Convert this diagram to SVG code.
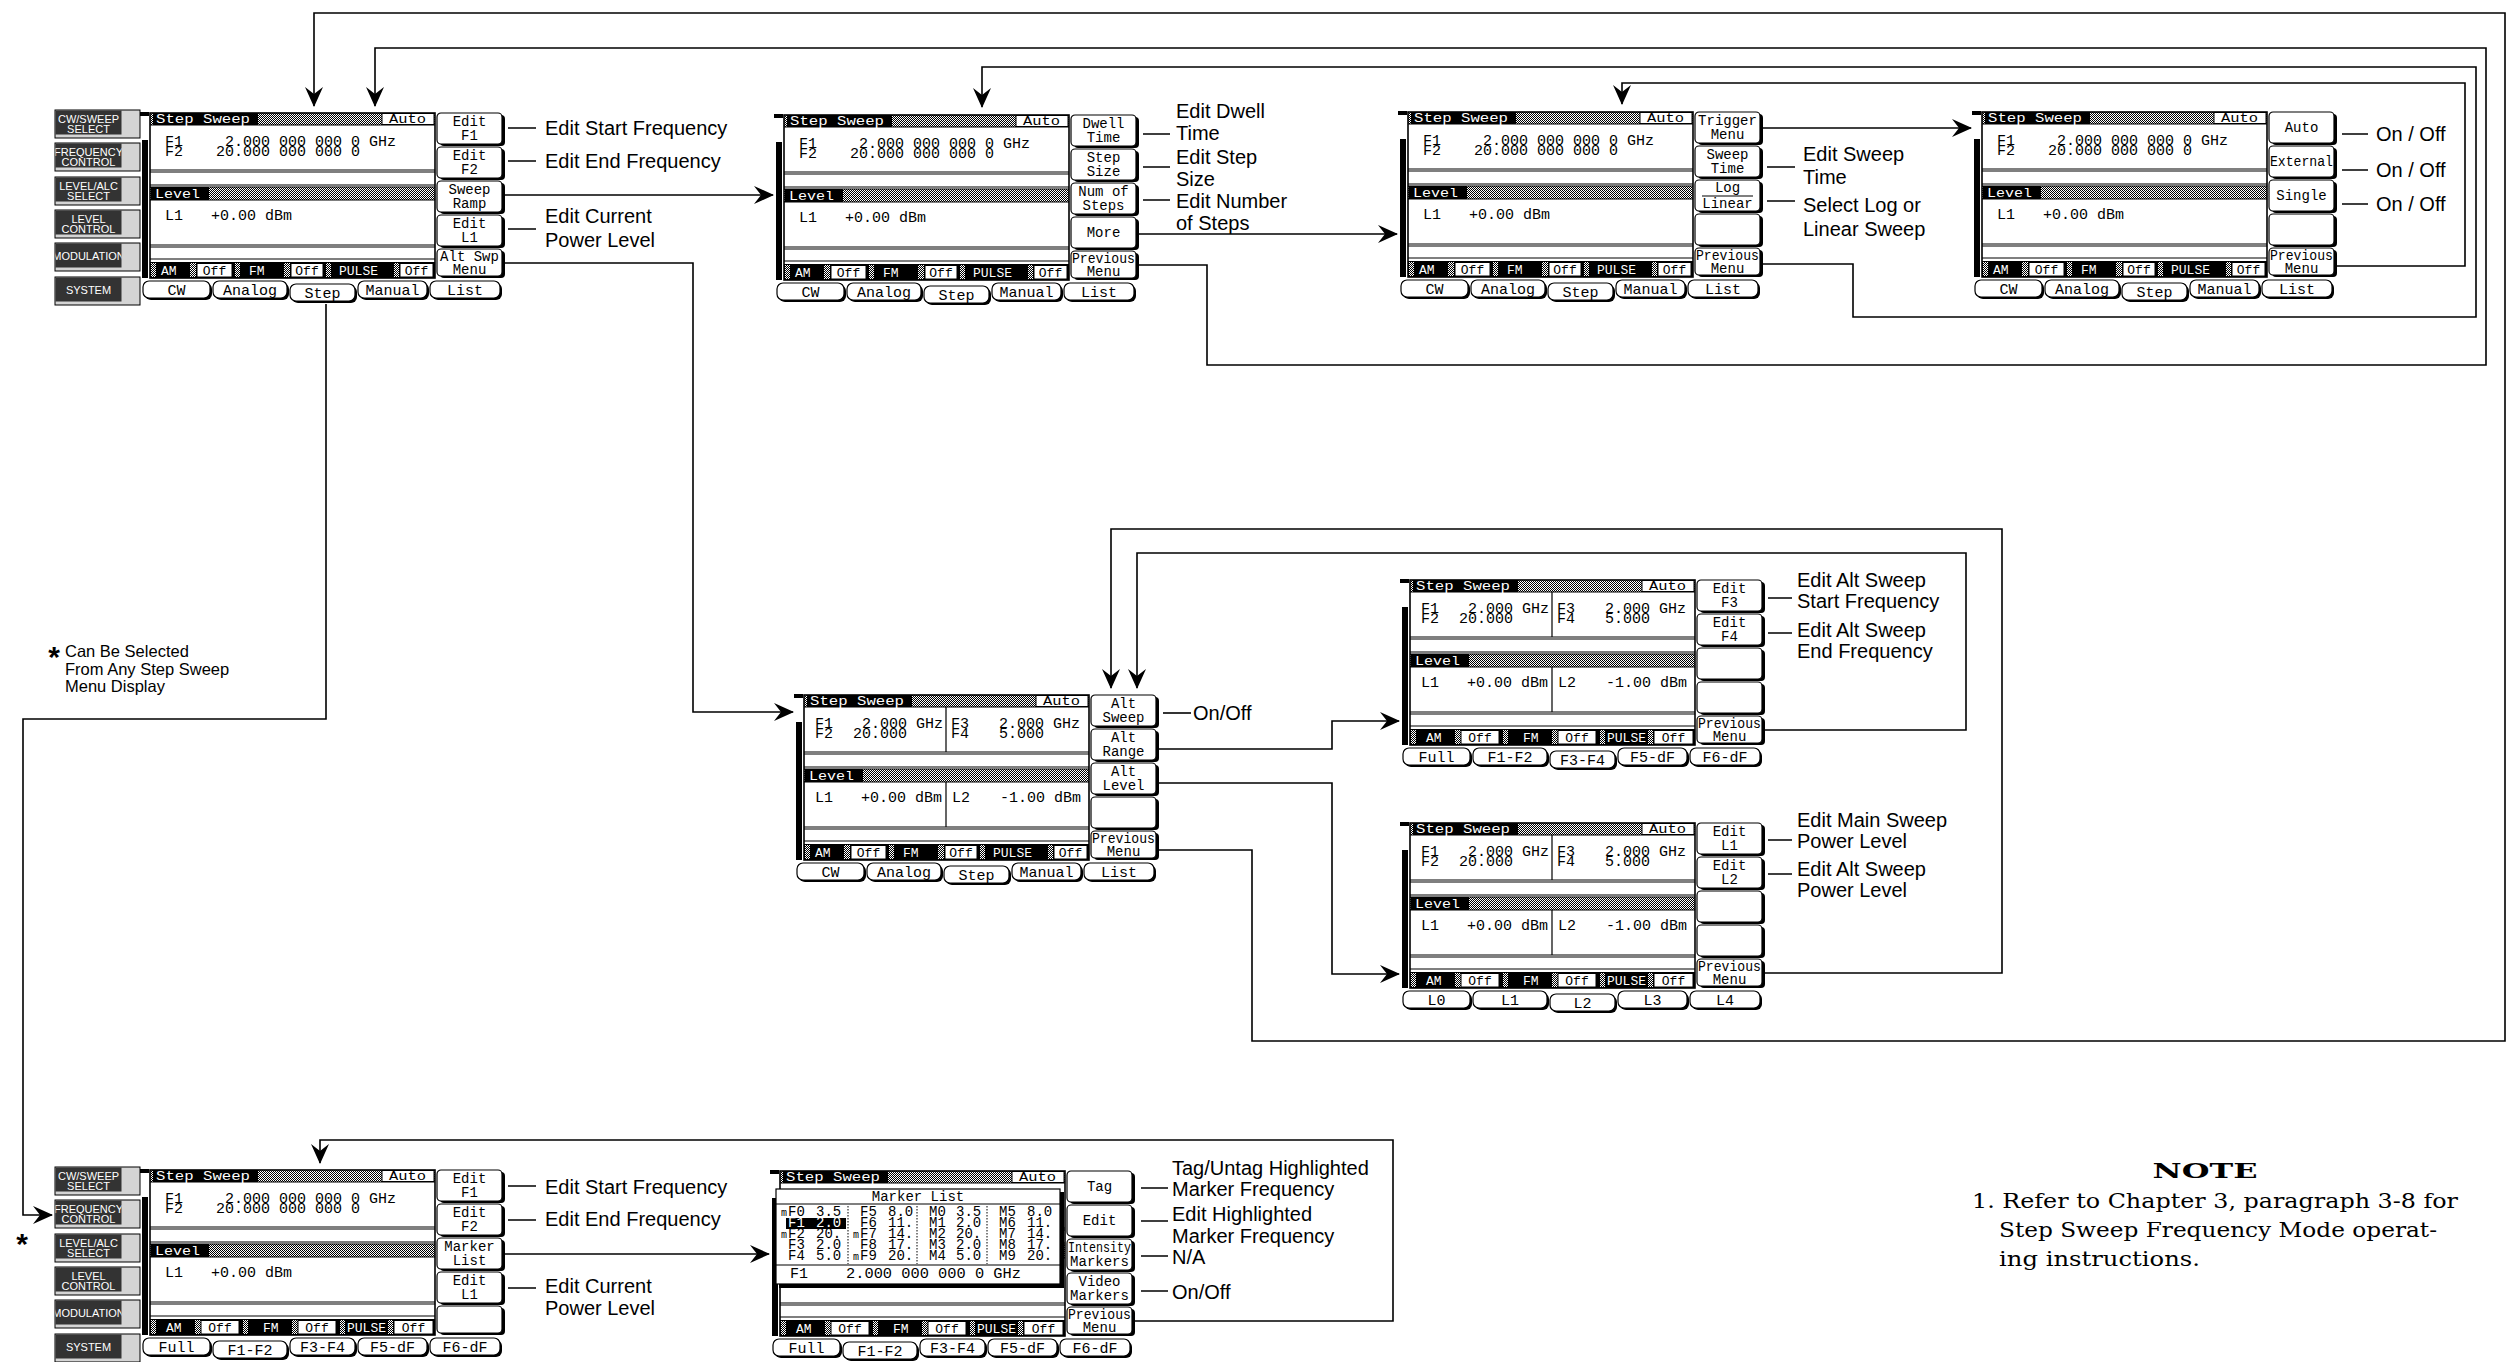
<svg xmlns="http://www.w3.org/2000/svg" width="2511" height="1362" viewBox="0 0 2511 1362">
<style>
.t{font-family:"Liberation Mono","DejaVu Sans Mono",monospace;fill:#000}
.f{font-size:15px}
.h{font-size:13px}
.s{font-size:13px}
.k{font-size:14px;text-anchor:middle}
.b{font-size:15px;text-anchor:middle}
.g{font-size:14px}
.m{font-size:10px}
.w{fill:#fff}
.lb{font-family:"Liberation Sans",Arial,sans-serif;font-size:20px;fill:#000}
.bt{font-family:"Liberation Sans",Arial,sans-serif;font-size:11px;fill:#fff;text-anchor:middle}
.ln{stroke:#000;stroke-width:1.6;fill:none}
.cn{stroke:#000;stroke-width:1.6;fill:none;marker-end:url(#ah)}
.bd{fill:none;stroke:#000;stroke-width:1.2}
.ob{fill:none;stroke:#000;stroke-width:1.6}
.key{fill:#fff;stroke:#000;stroke-width:1.2}
.sh{fill:#000}
.hb{fill:url(#ht)}
.off{fill:#fff;stroke:#000;stroke-width:1}
.nt{font-family:"DejaVu Serif","Liberation Serif",serif;font-size:21px;fill:#000}
</style>
<defs>
<pattern id="ht" width="2" height="2" patternUnits="userSpaceOnUse"><rect width="2" height="2" fill="#fff"/><rect width="1" height="1" fill="#000"/><rect x="1" y="1" width="1" height="1" fill="#000"/></pattern>
<marker id="ah" viewBox="0 0 20 18" refX="19" refY="9" markerWidth="20" markerHeight="18" markerUnits="userSpaceOnUse" orient="auto"><path d="M0,0 L20,9 L0,18 L7,9 Z" fill="#000"/></marker>
<clipPath id="lbc"><rect x="-94.5" y="-3" width="66" height="200"/></clipPath>

<g id="frame">
 <rect x="-10" y="-1" width="9" height="4" class="sh"/>
 <rect x="-8" y="27" width="6" height="138" class="sh"/>
 <rect x="0" y="0" width="285" height="165" fill="#fff"/>
 <rect x="0" y="0" width="285" height="12" class="hb"/>
 <rect x="3" y="0" width="105" height="12" class="sh"/>
 <rect x="232" y="0.5" width="52" height="11" class="off"/>
 <rect x="0" y="74" width="285" height="13" class="hb"/>
 <rect x="1" y="74" width="58" height="13" class="sh"/>
 <rect x="0" y="149" width="285" height="16" class="sh"/>
 <path class="bd" d="M0,12H285M0,57H285M0,59H285M0,72H285M0,74H285M0,87H285M0,132H285M0,134H285M0,146H285"/>
 <rect x="0" y="0" width="285" height="165" class="ob"/>
 <text class="t h w" x="6" y="10" textLength="94" lengthAdjust="spacingAndGlyphs">Step Sweep</text>
 <text class="t h" x="239" y="10" textLength="37" lengthAdjust="spacingAndGlyphs">Auto</text>
 <text class="t h w" x="5" y="85" textLength="45" lengthAdjust="spacingAndGlyphs">Level</text>
 <rect x="290" y="2" width="65" height="31" rx="4" class="sh"/><rect x="287" y="0" width="65" height="31" rx="4" class="key"/>
 <rect x="290" y="36" width="65" height="31" rx="4" class="sh"/><rect x="287" y="34" width="65" height="31" rx="4" class="key"/>
 <rect x="290" y="70" width="65" height="31" rx="4" class="sh"/><rect x="287" y="68" width="65" height="31" rx="4" class="key"/>
 <rect x="290" y="104" width="65" height="31" rx="4" class="sh"/><rect x="287" y="102" width="65" height="31" rx="4" class="key"/>
 <rect x="290" y="138" width="65" height="27" rx="4" class="sh"/><rect x="287" y="136" width="65" height="27" rx="4" class="key"/>
</g>

<g id="tsh3">
 <rect x="142" y="173" width="65" height="17" rx="6" class="sh"/><rect x="140" y="171" width="65" height="17" rx="6" class="key"/>
 <rect x="-5" y="170" width="67" height="17" rx="6" class="sh"/><rect x="-7" y="168" width="67" height="17" rx="6" class="key"/>
 <rect x="65" y="170" width="74" height="17" rx="6" class="sh"/><rect x="63" y="168" width="74" height="17" rx="6" class="key"/>
 <rect x="210" y="170" width="69" height="17" rx="6" class="sh"/><rect x="208" y="168" width="69" height="17" rx="6" class="key"/>
 <rect x="282" y="170" width="70" height="17" rx="6" class="sh"/><rect x="280" y="168" width="70" height="17" rx="6" class="key"/>
</g>
<g id="tsh2">
 <rect x="65" y="173" width="74" height="17" rx="6" class="sh"/><rect x="63" y="171" width="74" height="17" rx="6" class="key"/>
 <rect x="-5" y="170" width="67" height="17" rx="6" class="sh"/><rect x="-7" y="168" width="67" height="17" rx="6" class="key"/>
 <rect x="142" y="170" width="65" height="17" rx="6" class="sh"/><rect x="140" y="168" width="65" height="17" rx="6" class="key"/>
 <rect x="210" y="170" width="69" height="17" rx="6" class="sh"/><rect x="208" y="168" width="69" height="17" rx="6" class="key"/>
 <rect x="282" y="170" width="70" height="17" rx="6" class="sh"/><rect x="280" y="168" width="70" height="17" rx="6" class="key"/>
</g>
<g id="tabCW">
 <use href="#tsh3"/>
 <text class="t b" x="26.5" y="182">CW</text><text class="t b" x="100" y="182">Analog</text><text class="t b" x="172.5" y="185">Step</text><text class="t b" x="242.5" y="182">Manual</text><text class="t b" x="315" y="182">List</text>
</g>
<g id="tabF3">
 <use href="#tsh3"/>
 <text class="t b" x="26.5" y="182">Full</text><text class="t b" x="100" y="182">F1-F2</text><text class="t b" x="172.5" y="185">F3-F4</text><text class="t b" x="242.5" y="182">F5-dF</text><text class="t b" x="315" y="182">F6-dF</text>
</g>
<g id="tabF2">
 <use href="#tsh2"/>
 <text class="t b" x="26.5" y="182">Full</text><text class="t b" x="100" y="185">F1-F2</text><text class="t b" x="172.5" y="182">F3-F4</text><text class="t b" x="242.5" y="182">F5-dF</text><text class="t b" x="315" y="182">F6-dF</text>
</g>
<g id="tabL">
 <use href="#tsh3"/>
 <text class="t b" x="26.5" y="182">L0</text><text class="t b" x="100" y="182">L1</text><text class="t b" x="172.5" y="185">L2</text><text class="t b" x="242.5" y="182">L3</text><text class="t b" x="315" y="182">L4</text>
</g>

<g id="stA">
 <rect x="1" y="150" width="5" height="14" class="hb"/>
 <rect x="40" y="150" width="6" height="14" class="hb"/>
 <rect x="85" y="150" width="5" height="14" class="hb"/>
 <rect x="134" y="150" width="6" height="14" class="hb"/>
 <rect x="176" y="150" width="5" height="14" class="hb"/>
 <rect x="244" y="150" width="5" height="14" class="hb"/>
 <rect x="47" y="150.5" width="35" height="13.5" class="off"/>
 <rect x="141" y="150.5" width="32" height="13.5" class="off"/>
 <rect x="250" y="150.5" width="33" height="13.5" class="off"/>
 <text class="t s w" x="11" y="162">AM</text>
 <text class="t s w" x="99" y="162">FM</text>
 <text class="t s w" x="189" y="162">PULSE</text>
 <text class="t s" x="64.5" y="162" text-anchor="middle">Off</text>
 <text class="t s" x="157" y="162" text-anchor="middle">Off</text>
 <text class="t s" x="266.5" y="162" text-anchor="middle">Off</text>
</g>
<g id="stB">
 <rect x="1" y="150" width="5" height="14" class="hb"/>
 <rect x="45" y="150" width="6" height="14" class="hb"/>
 <rect x="93" y="150" width="5" height="14" class="hb"/>
 <rect x="142" y="150" width="6" height="14" class="hb"/>
 <rect x="190" y="150" width="5" height="14" class="hb"/>
 <rect x="238" y="150" width="5" height="14" class="hb"/>
 <rect x="51" y="150.5" width="38" height="13.5" class="off"/>
 <rect x="148" y="150.5" width="38" height="13.5" class="off"/>
 <rect x="244" y="150.5" width="39" height="13.5" class="off"/>
 <text class="t s w" x="16" y="162">AM</text>
 <text class="t s w" x="113" y="162">FM</text>
 <text class="t s w" x="197" y="162">PULSE</text>
 <text class="t s" x="70" y="162" text-anchor="middle">Off</text>
 <text class="t s" x="167" y="162" text-anchor="middle">Off</text>
 <text class="t s" x="263.5" y="162" text-anchor="middle">Off</text>
</g>

<g id="fs">
 <text class="t f" x="15" y="33">F1</text>
 <text class="t f" x="75" y="33">2.000 000 000 0 GHz</text>
 <text class="t f" x="15" y="43">F2</text>
 <text class="t f" x="66" y="43">20.000 000 000 0</text>
 <text class="t f" x="15" y="107">L1</text>
 <text class="t f" x="61" y="107">+0.00 dBm</text>
</g>
<g id="fd">
 <path class="bd" d="M142,12V57M142,87V132"/>
 <text class="t f" x="11" y="33">F1</text>
 <text class="t f" x="58" y="33">2.000 GHz</text>
 <text class="t f" x="11" y="43">F2</text>
 <text class="t f" x="49" y="43">20.000</text>
 <text class="t f" x="147" y="33">F3</text>
 <text class="t f" x="195" y="33">2.000 GHz</text>
 <text class="t f" x="147" y="43">F4</text>
 <text class="t f" x="195" y="43">5.000</text>
 <text class="t f" x="11" y="107">L1</text>
 <text class="t f" x="57" y="107">+0.00 dBm</text>
 <text class="t f" x="148" y="107">L2</text>
 <text class="t f" x="196" y="107">-1.00 dBm</text>
</g>

<g id="lb">
 <rect x="-95" y="-3" width="85" height="28" fill="#d4d4d4" stroke="#000"/><rect x="-94.5" y="-2.5" width="66" height="24" fill="#333"/>
 <rect x="-95" y="30" width="85" height="28" fill="#d4d4d4" stroke="#000"/><rect x="-94.5" y="30.5" width="66" height="24" fill="#333"/>
 <rect x="-95" y="64" width="85" height="28" fill="#d4d4d4" stroke="#000"/><rect x="-94.5" y="64.5" width="66" height="24" fill="#333"/>
 <rect x="-95" y="97" width="85" height="28" fill="#d4d4d4" stroke="#000"/><rect x="-94.5" y="97.5" width="66" height="24" fill="#333"/>
 <rect x="-95" y="130" width="85" height="28" fill="#d4d4d4" stroke="#000"/><rect x="-94.5" y="130.5" width="66" height="24" fill="#333"/>
 <rect x="-95" y="164" width="85" height="28" fill="#d4d4d4" stroke="#000"/><rect x="-94.5" y="164.5" width="66" height="24" fill="#333"/>
 <g clip-path="url(#lbc)">
  <text class="bt" x="-61.5" y="9.5">CW/SWEEP</text><text class="bt" x="-61.5" y="20">SELECT</text>
  <text class="bt" x="-61.5" y="42.5">FREQUENCY</text><text class="bt" x="-61.5" y="53">CONTROL</text>
  <text class="bt" x="-61.5" y="76.5">LEVEL/ALC</text><text class="bt" x="-61.5" y="87">SELECT</text>
  <text class="bt" x="-61.5" y="109.5">LEVEL</text><text class="bt" x="-61.5" y="120">CONTROL</text>
  <text class="bt" x="-61.5" y="146.5">MODULATION</text>
  <text class="bt" x="-61.5" y="180.5">SYSTEM</text>
 </g>
</g>

<g id="mkl">
 <rect x="-1" y="21" width="285" height="96" class="sh"/>
 <rect x="-4" y="18" width="284" height="95" fill="#fff" stroke="#000" stroke-width="1.2"/>
 <text class="t g" x="138" y="30" text-anchor="middle">Marker List</text>
 <path class="bd" d="M-4,33H280M-4,94H280"/>
 <path d="M68,35V93M137,35V93M207,35V93" stroke="#000" stroke-width="1" stroke-dasharray="1.5,1.5" fill="none"/>
 <rect x="6" y="47" width="60" height="11" class="sh"/>
 <text class="t g" y="45"><tspan class="m" x="1">m</tspan><tspan x="8">F0</tspan><tspan x="36">3.5</tspan><tspan x="80">F5</tspan><tspan x="108">8.0</tspan><tspan x="149">M0</tspan><tspan x="176">3.5</tspan><tspan x="219">M5</tspan><tspan x="247">8.0</tspan></text>
 <text class="t g w" y="56"><tspan x="8">F1</tspan><tspan x="36">2.0</tspan></text>
 <text class="t g" y="56"><tspan x="80">F6</tspan><tspan x="108">11.</tspan><tspan x="149">M1</tspan><tspan x="176">2.0</tspan><tspan x="219">M6</tspan><tspan x="247">11.</tspan></text>
 <text class="t g" y="67"><tspan class="m" x="1">m</tspan><tspan x="8">F2</tspan><tspan x="36">20.</tspan><tspan class="m" x="73">m</tspan><tspan x="80">F7</tspan><tspan x="108">14.</tspan><tspan x="149">M2</tspan><tspan x="176">20.</tspan><tspan x="219">M7</tspan><tspan x="247">14.</tspan></text>
 <text class="t g" y="78"><tspan x="8">F3</tspan><tspan x="36">2.0</tspan><tspan x="80">F8</tspan><tspan x="108">17.</tspan><tspan x="149">M3</tspan><tspan x="176">2.0</tspan><tspan x="219">M8</tspan><tspan x="247">17.</tspan></text>
 <text class="t g" y="89"><tspan x="8">F4</tspan><tspan x="36">5.0</tspan><tspan class="m" x="73">m</tspan><tspan x="80">F9</tspan><tspan x="108">20.</tspan><tspan x="149">M4</tspan><tspan x="176">5.0</tspan><tspan x="219">M9</tspan><tspan x="247">20.</tspan></text>
 <text class="t f" x="10" y="107">F1</text>
 <text class="t f" x="66" y="107" textLength="175" lengthAdjust="spacingAndGlyphs">2.000 000 000 0 GHz</text>
</g>
</defs>

<rect width="2511" height="1362" fill="#fff"/>

<g id="p1" transform="translate(150,113)">
 <use href="#lb"/><use href="#frame"/><use href="#fs"/><use href="#stA"/><use href="#tabCW"/>
 <text class="t k" x="319.5" y="13">Edit</text><text class="t k" x="319.5" y="27">F1</text>
 <text class="t k" x="319.5" y="47">Edit</text><text class="t k" x="319.5" y="61">F2</text>
 <text class="t k" x="319.5" y="81">Sweep</text><text class="t k" x="319.5" y="95">Ramp</text>
 <text class="t k" x="319.5" y="115">Edit</text><text class="t k" x="319.5" y="129">L1</text>
 <text class="t k" x="319.5" y="148">Alt Swp</text><text class="t k" x="319.5" y="161">Menu</text>
</g>

<g id="p2" transform="translate(784,115)">
 <use href="#frame"/><use href="#fs"/><use href="#stA"/><use href="#tabCW"/>
 <text class="t k" x="319.5" y="13">Dwell</text><text class="t k" x="319.5" y="27">Time</text>
 <text class="t k" x="319.5" y="47">Step</text><text class="t k" x="319.5" y="61">Size</text>
 <text class="t k" x="319.5" y="81">Num of</text><text class="t k" x="319.5" y="95">Steps</text>
 <text class="t k" x="319.5" y="122">More</text>
 <text class="t k" x="319.5" y="148" textLength="63" lengthAdjust="spacingAndGlyphs">Previous</text><text class="t k" x="319.5" y="161">Menu</text>
</g>

<g id="p3" transform="translate(1408,112)">
 <use href="#frame"/><use href="#fs"/><use href="#stA"/><use href="#tabCW"/>
 <text class="t k" x="319.5" y="13">Trigger</text><text class="t k" x="319.5" y="27">Menu</text>
 <text class="t k" x="319.5" y="47">Sweep</text><text class="t k" x="319.5" y="61">Time</text>
 <text class="t k" x="319.5" y="80">Log</text><path class="bd" d="M294,84H345"/><text class="t k" x="319.5" y="96">Linear</text>
 <text class="t k" x="319.5" y="148" textLength="63" lengthAdjust="spacingAndGlyphs">Previous</text><text class="t k" x="319.5" y="161">Menu</text>
</g>

<g id="p4" transform="translate(1982,112)">
 <use href="#frame"/><use href="#fs"/><use href="#stA"/><use href="#tabCW"/>
 <text class="t k" x="319.5" y="20">Auto</text>
 <text class="t k" x="319.5" y="54" textLength="63" lengthAdjust="spacingAndGlyphs">External</text>
 <text class="t k" x="319.5" y="88">Single</text>
 <text class="t k" x="319.5" y="148" textLength="63" lengthAdjust="spacingAndGlyphs">Previous</text><text class="t k" x="319.5" y="161">Menu</text>
</g>

<g id="p5" transform="translate(804,695)">
 <use href="#frame"/><use href="#fd"/><use href="#stA"/><use href="#tabCW"/>
 <text class="t k" x="319.5" y="13">Alt</text><text class="t k" x="319.5" y="27">Sweep</text>
 <text class="t k" x="319.5" y="47">Alt</text><text class="t k" x="319.5" y="61">Range</text>
 <text class="t k" x="319.5" y="81">Alt</text><text class="t k" x="319.5" y="95">Level</text>
 <text class="t k" x="319.5" y="148" textLength="63" lengthAdjust="spacingAndGlyphs">Previous</text><text class="t k" x="319.5" y="161">Menu</text>
</g>

<g id="p6" transform="translate(1410,580)">
 <use href="#frame"/><use href="#fd"/><use href="#stB"/><use href="#tabF3"/>
 <text class="t k" x="319.5" y="13">Edit</text><text class="t k" x="319.5" y="27">F3</text>
 <text class="t k" x="319.5" y="47">Edit</text><text class="t k" x="319.5" y="61">F4</text>
 <text class="t k" x="319.5" y="148" textLength="63" lengthAdjust="spacingAndGlyphs">Previous</text><text class="t k" x="319.5" y="161">Menu</text>
</g>

<g id="p8" transform="translate(1410,823)">
 <use href="#frame"/><use href="#fd"/><use href="#stB"/><use href="#tabL"/>
 <text class="t k" x="319.5" y="13">Edit</text><text class="t k" x="319.5" y="27">L1</text>
 <text class="t k" x="319.5" y="47">Edit</text><text class="t k" x="319.5" y="61">L2</text>
 <text class="t k" x="319.5" y="148" textLength="63" lengthAdjust="spacingAndGlyphs">Previous</text><text class="t k" x="319.5" y="161">Menu</text>
</g>

<g id="p7" transform="translate(150,1170)">
 <use href="#lb"/><use href="#frame"/><use href="#fs"/><use href="#stB"/><use href="#tabF2"/>
 <text class="t k" x="319.5" y="13">Edit</text><text class="t k" x="319.5" y="27">F1</text>
 <text class="t k" x="319.5" y="47">Edit</text><text class="t k" x="319.5" y="61">F2</text>
 <text class="t k" x="319.5" y="81">Marker</text><text class="t k" x="319.5" y="95">List</text>
 <text class="t k" x="319.5" y="115">Edit</text><text class="t k" x="319.5" y="129">L1</text>
</g>

<g id="p9" transform="translate(780,1171)">
 <use href="#frame"/><use href="#mkl"/><use href="#stB"/><use href="#tabF2"/>
 <text class="t k" x="319.5" y="20">Tag</text>
 <text class="t k" x="319.5" y="54">Edit</text>
 <text class="t k" x="319.5" y="81" textLength="63" lengthAdjust="spacingAndGlyphs">Intensity</text><text class="t k" x="319.5" y="95">Markers</text>
 <text class="t k" x="319.5" y="115">Video</text><text class="t k" x="319.5" y="129">Markers</text>
 <text class="t k" x="319.5" y="148" textLength="63" lengthAdjust="spacingAndGlyphs">Previous</text><text class="t k" x="319.5" y="161">Menu</text>
</g>

<g id="connectors">
 <path class="cn" d="M505,195H773"/>
 <path class="cn" d="M505,263H693V712H793"/>
 <path class="cn" d="M326,304V719H23V1215H52"/>
 <path class="cn" d="M1139,234H1397"/>
 <path class="cn" d="M1139,265H1207V365H2486V48H375V106"/>
 <path class="cn" d="M1763,128H1971"/>
 <path class="cn" d="M1763,264H1853V317H2476V67H982V107"/>
 <path class="cn" d="M2337,266H2465V83H1622V104"/>
 <path class="cn" d="M1159,749H1332V721H1399"/>
 <path class="cn" d="M1159,783H1332V974H1399"/>
 <path class="cn" d="M1159,850H1252V1041H2505V13H314V106"/>
 <path class="cn" d="M1765,730H1966V553H1137V688"/>
 <path class="cn" d="M1765,973H2002V529H1111V688"/>
 <path class="cn" d="M505,1254H769"/>
 <path class="cn" d="M1135,1321H1393V1140H320V1163"/>
 <path class="ln" d="M508,128H536M508,161H536M508,229H536"/>
 <path class="ln" d="M1143,134H1170M1143,167H1170M1143,200H1170"/>
 <path class="ln" d="M1767,167H1795M1767,201H1795"/>
 <path class="ln" d="M2342,134H2368M2342,170H2368M2342,204H2368"/>
 <path class="ln" d="M1163,713H1191"/>
 <path class="ln" d="M1768,598H1792M1768,633H1792"/>
 <path class="ln" d="M1768,840H1792M1768,874H1792"/>
 <path class="ln" d="M508,1186H536M508,1220H536M508,1288H536"/>
 <path class="ln" d="M1141,1188H1168M1141,1221H1168M1141,1256H1168M1141,1291H1168"/>
</g>

<g id="labels" class="lb">
 <text x="545" y="135">Edit Start Frequency</text>
 <text x="545" y="168">Edit End Frequency</text>
 <text x="545" y="223">Edit Current</text>
 <text x="545" y="247">Power Level</text>
 <text x="1176" y="118">Edit Dwell</text><text x="1176" y="140">Time</text>
 <text x="1176" y="164">Edit Step</text><text x="1176" y="186">Size</text>
 <text x="1176" y="208">Edit Number</text><text x="1176" y="230">of Steps</text>
 <text x="1803" y="161">Edit Sweep</text><text x="1803" y="184">Time</text>
 <text x="1803" y="212">Select Log or</text><text x="1803" y="236">Linear Sweep</text>
 <text x="2376" y="141">On / Off</text>
 <text x="2376" y="177">On / Off</text>
 <text x="2376" y="211">On / Off</text>
 <text x="1193" y="720">On/Off</text>
 <text x="1797" y="587">Edit Alt Sweep</text><text x="1797" y="608">Start Frequency</text>
 <text x="1797" y="637">Edit Alt Sweep</text><text x="1797" y="658">End Frequency</text>
 <text x="1797" y="827">Edit Main Sweep</text><text x="1797" y="848">Power Level</text>
 <text x="1797" y="876">Edit Alt Sweep</text><text x="1797" y="897">Power Level</text>
 <text x="545" y="1194">Edit Start Frequency</text>
 <text x="545" y="1226">Edit End Frequency</text>
 <text x="545" y="1293">Edit Current</text>
 <text x="545" y="1315">Power Level</text>
 <text x="1172" y="1175">Tag/Untag Highlighted</text><text x="1172" y="1196">Marker Frequency</text>
 <text x="1172" y="1221">Edit Highlighted</text><text x="1172" y="1243">Marker Frequency</text>
 <text x="1172" y="1264">N/A</text>
 <text x="1172" y="1299">On/Off</text>
</g>

<g id="notes">
 <text x="54" y="667" font-family="Liberation Sans,Arial,sans-serif" font-weight="bold" font-size="30" text-anchor="middle">*</text>
 <text x="65" y="657" font-family="Liberation Sans,Arial,sans-serif" font-size="16.5">Can Be Selected</text>
 <text x="65" y="675" font-family="Liberation Sans,Arial,sans-serif" font-size="16.5">From Any Step Sweep</text>
 <text x="65" y="692" font-family="Liberation Sans,Arial,sans-serif" font-size="16.5">Menu Display</text>
 <text x="22" y="1254" font-family="Liberation Sans,Arial,sans-serif" font-weight="bold" font-size="30" text-anchor="middle">*</text>
 <text class="nt" x="2205" y="1178" text-anchor="middle" font-weight="bold" textLength="105" lengthAdjust="spacingAndGlyphs">NOTE</text>
 <text class="nt" x="1972" y="1208" textLength="486" lengthAdjust="spacingAndGlyphs">1. Refer to Chapter 3, paragraph 3-8 for</text>
 <text class="nt" x="1999" y="1237" textLength="438" lengthAdjust="spacingAndGlyphs">Step Sweep Frequency Mode operat-</text>
 <text class="nt" x="1999" y="1266" textLength="201" lengthAdjust="spacingAndGlyphs">ing instructions.</text>
</g>
</svg>
